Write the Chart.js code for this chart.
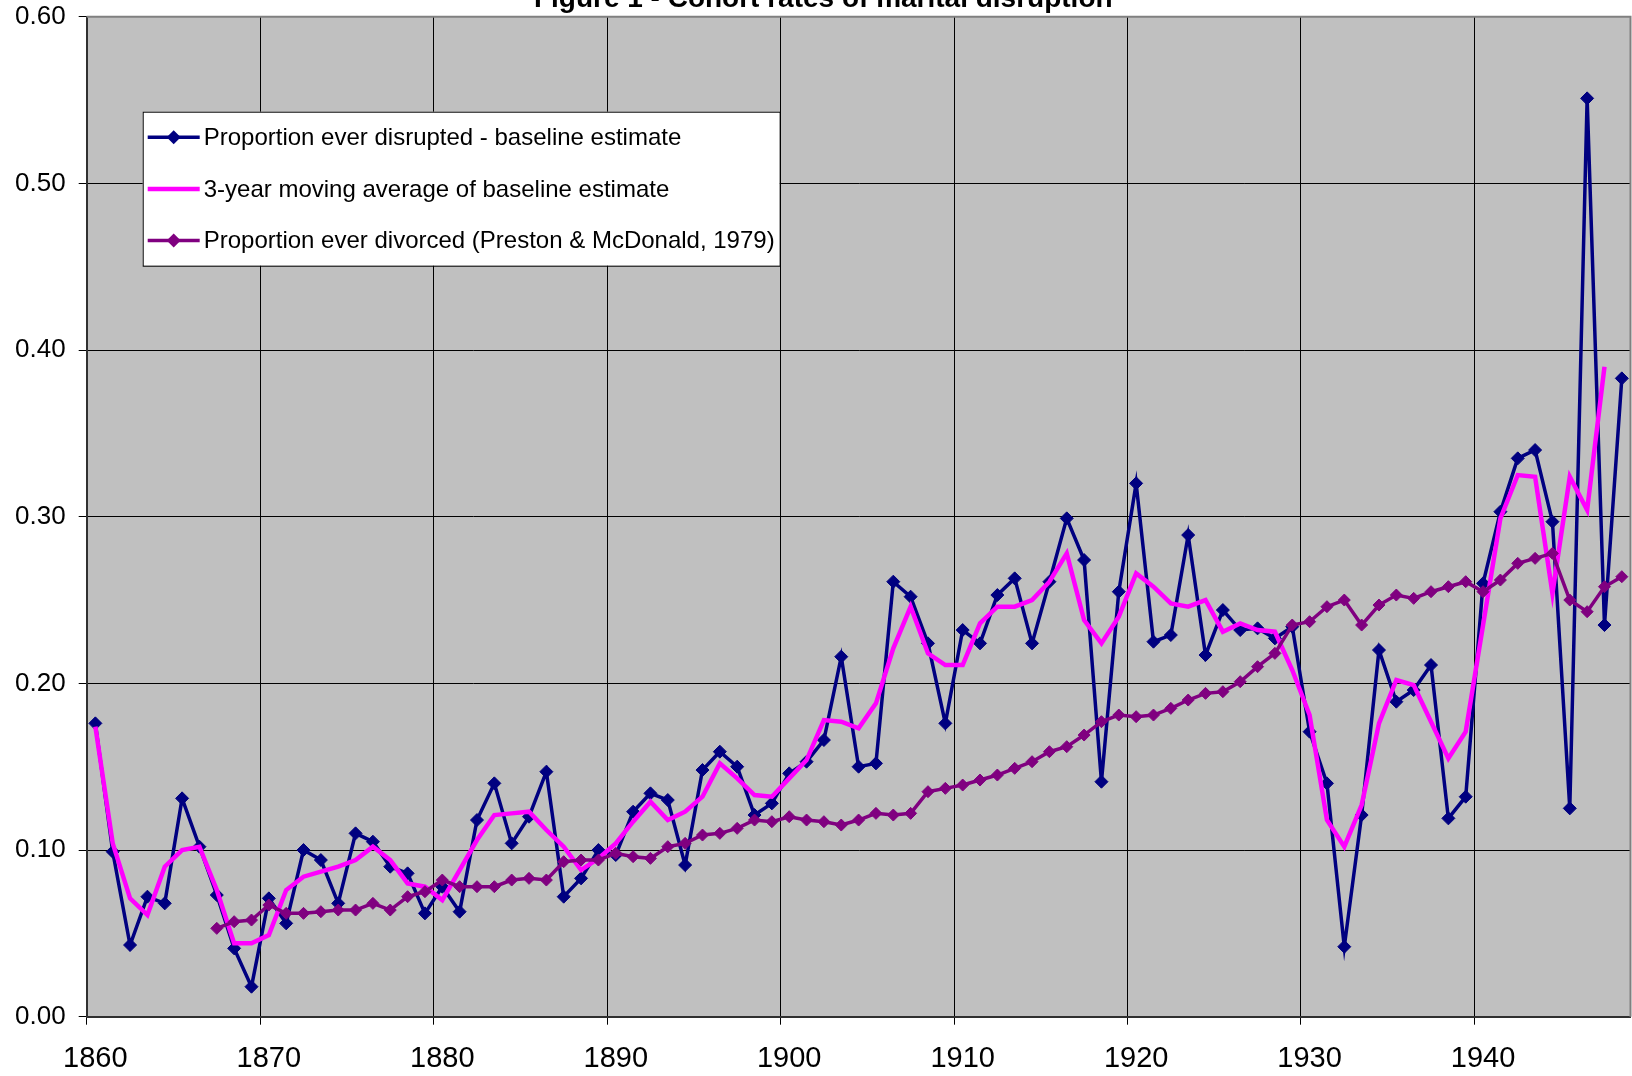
<!DOCTYPE html>
<html>
<head>
<meta charset="utf-8">
<title>Figure 1 - Cohort rates of marital disruption</title>
<script src="https://cdn.jsdelivr.net/npm/chart.js@4.4.1/dist/chart.umd.min.js"></script>
<style>
  html, body { margin: 0; padding: 0; background: #fff; }
  #wrap { position: relative; width: 1632px; height: 1076px; overflow: hidden; }
  #chart { position: absolute; left: 0; top: -20px; }
</style>
</head>
<body>
<div id="wrap"><canvas id="chart" width="1632" height="1096"></canvas></div>
<script>
// birth cohorts (category axis)
const years = [
  1860, 1861, 1862, 1863, 1864, 1865, 1866, 1867, 1868, 1869,
  1870, 1871, 1872, 1873, 1874, 1875, 1876, 1877, 1878, 1879,
  1880, 1881, 1882, 1883, 1884, 1885, 1886, 1887, 1888, 1889,
  1890, 1891, 1892, 1893, 1894, 1895, 1896, 1897, 1898, 1899,
  1900, 1901, 1902, 1903, 1904, 1905, 1906, 1907, 1908, 1909,
  1910, 1911, 1912, 1913, 1914, 1915, 1916, 1917, 1918, 1919,
  1920, 1921, 1922, 1923, 1924, 1925, 1926, 1927, 1928, 1929,
  1930, 1931, 1932, 1933, 1934, 1935, 1936, 1937, 1938, 1939,
  1940, 1941, 1942, 1943, 1944, 1945, 1946, 1947, 1948
];

// Proportion ever disrupted - baseline estimate
const baseline = [
  0.176, 0.099, 0.043, 0.072, 0.068, 0.131, 0.102, 0.073, 0.041, 0.018,
  0.071, 0.056, 0.100, 0.094, 0.068, 0.110, 0.105, 0.090, 0.086, 0.062,
  0.078, 0.063, 0.118, 0.140, 0.104, 0.120, 0.147, 0.072, 0.083, 0.100,
  0.097, 0.123, 0.134, 0.130, 0.091, 0.148, 0.159, 0.150, 0.121, 0.128,
  0.146, 0.153, 0.166, 0.216, 0.150, 0.152, 0.261, 0.252, 0.224, 0.176,
  0.232, 0.224, 0.253, 0.263, 0.224, 0.261, 0.299, 0.274, 0.141, 0.255,
  0.320, 0.225, 0.229, 0.289, 0.217, 0.244, 0.232, 0.233, 0.227, 0.234,
  0.171, 0.140, 0.042, 0.121, 0.220, 0.189, 0.196, 0.211, 0.119, 0.132,
  0.260, 0.303, 0.335, 0.340, 0.297, 0.125, 0.551, 0.235, 0.383
];

// 3-year moving average of baseline estimate
const movingAvg = [
  0.174, 0.104, 0.071, 0.061, 0.090, 0.100, 0.102, 0.076, 0.044, 0.044,
  0.049, 0.076, 0.084, 0.087, 0.090, 0.094, 0.102, 0.094, 0.080, 0.078,
  0.070, 0.088, 0.106, 0.121, 0.122, 0.123, 0.112, 0.102, 0.088, 0.095,
  0.104, 0.117, 0.129, 0.118, 0.123, 0.132, 0.152, 0.143, 0.133, 0.132,
  0.143, 0.154, 0.178, 0.177, 0.173, 0.188, 0.221, 0.246, 0.218, 0.211,
  0.211, 0.236, 0.246, 0.246, 0.250, 0.261, 0.278, 0.238, 0.224, 0.240,
  0.266, 0.258, 0.248, 0.246, 0.250, 0.231, 0.236, 0.232, 0.231, 0.208,
  0.181, 0.118, 0.102, 0.127, 0.176, 0.202, 0.199, 0.177, 0.155, 0.171,
  0.235, 0.299, 0.325, 0.324, 0.254, 0.324, 0.304, 0.390, null
];

// Proportion ever divorced (Preston & McDonald, 1979)
const divorced = [
  null, null, null, null, null, null, null, 0.053, 0.057, 0.058,
  0.067, 0.062, 0.062, 0.063, 0.064, 0.064, 0.068, 0.064, 0.072, 0.075,
  0.082, 0.078, 0.078, 0.078, 0.082, 0.083, 0.082, 0.093, 0.094, 0.094,
  0.098, 0.096, 0.095, 0.102, 0.104, 0.109, 0.110, 0.113, 0.118, 0.117,
  0.120, 0.118, 0.117, 0.115, 0.118, 0.122, 0.121, 0.122, 0.135, 0.137,
  0.139, 0.142, 0.145, 0.149, 0.153, 0.159, 0.162, 0.169, 0.177, 0.181,
  0.180, 0.181, 0.185, 0.190, 0.194, 0.195, 0.201, 0.210, 0.218, 0.235,
  0.237, 0.246, 0.250, 0.235, 0.247, 0.253, 0.251, 0.255, 0.258, 0.261,
  0.255, 0.262, 0.272, 0.275, 0.278, 0.250, 0.243, 0.258, 0.264
];

// labelled years on the x axis, labels on the y axis
const xTickYears = [1860, 1870, 1880, 1890, 1900, 1910, 1920, 1930, 1940];
const yTickLabels = ['0.00', '0.10', '0.20', '0.30', '0.40', '0.50', '0.60'];

const fontFamily = '"Liberation Sans", Arial, Helvetica, sans-serif';
Chart.defaults.font.family = fontFamily;
Chart.defaults.color = '#000';

// grey plot area + grey frame on top/right
const plotBackground = {
  id: 'plotBackground',
  beforeDraw(chart) {
    const { ctx, chartArea: a } = chart;
    ctx.save();
    ctx.fillStyle = '#c0c0c0';
    ctx.fillRect(a.left, a.top, a.right - a.left, a.bottom - a.top);
    ctx.restore();
  },
  beforeDatasetsDraw(chart) {
    const { ctx, chartArea: a } = chart;
    ctx.save();
    ctx.strokeStyle = '#808080';
    ctx.lineWidth = 2;
    ctx.beginPath();
    ctx.moveTo(a.left, a.top);
    ctx.lineTo(a.right, a.top);
    ctx.lineTo(a.right, a.bottom);
    ctx.stroke();
    ctx.restore();
  }
};

function diamond(ctx, x, y, r, color) {
  ctx.beginPath();
  ctx.moveTo(x, y - r);
  ctx.lineTo(x + r, y);
  ctx.lineTo(x, y + r);
  ctx.lineTo(x - r, y);
  ctx.closePath();
  ctx.fillStyle = color;
  ctx.fill();
}

// boxed legend inside the plot, like the Excel one
const boxLegend = {
  id: 'boxLegend',
  afterDraw(chart) {
    const { ctx, chartArea: a } = chart;
    const left = a.left + 56;
    const top = a.top + 95;
    const w = 637;
    const h = 154;
    ctx.save();
    ctx.fillStyle = '#fff';
    ctx.fillRect(left, top, w, h);
    ctx.strokeStyle = '#000';
    ctx.lineWidth = 1;
    ctx.strokeRect(left + 0.5, top + 0.5, w, h);

    ctx.font = '24px ' + fontFamily;
    ctx.textBaseline = 'middle';
    ctx.textAlign = 'left';
    chart.data.datasets.forEach((ds, i) => {
      const y = top + 25.5 + i * 51.7;
      ctx.strokeStyle = ds.borderColor;
      ctx.lineWidth = ds.borderWidth;
      ctx.beginPath();
      ctx.moveTo(left + 5, y);
      ctx.lineTo(left + 57, y);
      ctx.stroke();
      if (ds.pointRadius > 0) diamond(ctx, left + 31, y, 7, ds.pointBackgroundColor);
      ctx.fillStyle = '#000';
      ctx.fillText(ds.label, left + 61, y + 1);
    });
    ctx.restore();
  }
};

new Chart(document.getElementById('chart'), {
  type: 'line',
  data: {
    labels: years,
    datasets: [
      {
        label: 'Proportion ever disrupted - baseline estimate',
        data: baseline,
        borderColor: '#000080',
        borderWidth: 3.5,
        pointStyle: 'rectRot',
        pointRadius: 6.5,
        pointBorderWidth: 1,
        pointBackgroundColor: '#000080',
        pointBorderColor: '#000080',
        tension: 0,
        order: 3
      },
      {
        label: '3-year moving average of baseline estimate',
        data: movingAvg,
        borderColor: '#ff00ff',
        borderWidth: 4.5,
        pointRadius: 0,
        pointBackgroundColor: '#ff00ff',
        tension: 0,
        order: 2
      },
      {
        label: 'Proportion ever divorced (Preston & McDonald, 1979)',
        data: divorced,
        borderColor: '#800080',
        borderWidth: 3.5,
        pointStyle: 'rectRot',
        pointRadius: 6,
        pointBorderWidth: 1,
        pointBackgroundColor: '#800080',
        pointBorderColor: '#800080',
        tension: 0,
        order: 1
      }
    ]
  },
  options: {
    responsive: false,
    animation: false,
    devicePixelRatio: 1,
    layout: {
      autoPadding: false, // otherwise the point size eats the right edge
      padding: { left: 16, right: 1.5, top: 0, bottom: 0 }
    },
    plugins: {
      legend: { display: false },
      tooltip: { enabled: false },
      title: {
        display: true,
        text: 'Figure 1 - Cohort rates of marital disruption',
        color: '#000',
        font: { size: 28, weight: 'bold' },
        padding: { top: 2.5, bottom: 0.6 }
      }
    },
    scales: {
      x: {
        type: 'category',
        offset: true,
        grid: {
          offset: true,
          lineWidth: 1,
          tickLength: 8,
          color: c => (xTickYears.includes(years[c.index]) ? '#000' : 'rgba(0,0,0,0)')
        },
        border: { color: '#303030', width: 2 },
        ticks: {
          autoSkip: false,
          maxRotation: 0,
          minRotation: 0,
          padding: 8,
          font: { size: 29, lineHeight: 1.82 },
          callback: (v, i) => (xTickYears.includes(years[i]) ? String(years[i]) : '')
        },
        afterFit(scale) { scale.height = 59.3; }
      },
      y: {
        min: 0,
        max: 0.6,
        grid: { color: '#000', lineWidth: 1, tickLength: 8 },
        border: { color: '#303030', width: 2 },
        ticks: {
          stepSize: 0.1,
          padding: 13,
          font: { size: 26 },
          callback: (v, i) => yTickLabels[i] || v.toFixed(2)
        },
        afterFit(scale) { scale.width = 70.7; }
      }
    }
  },
  plugins: [plotBackground, boxLegend]
});
</script>
</body>
</html>
